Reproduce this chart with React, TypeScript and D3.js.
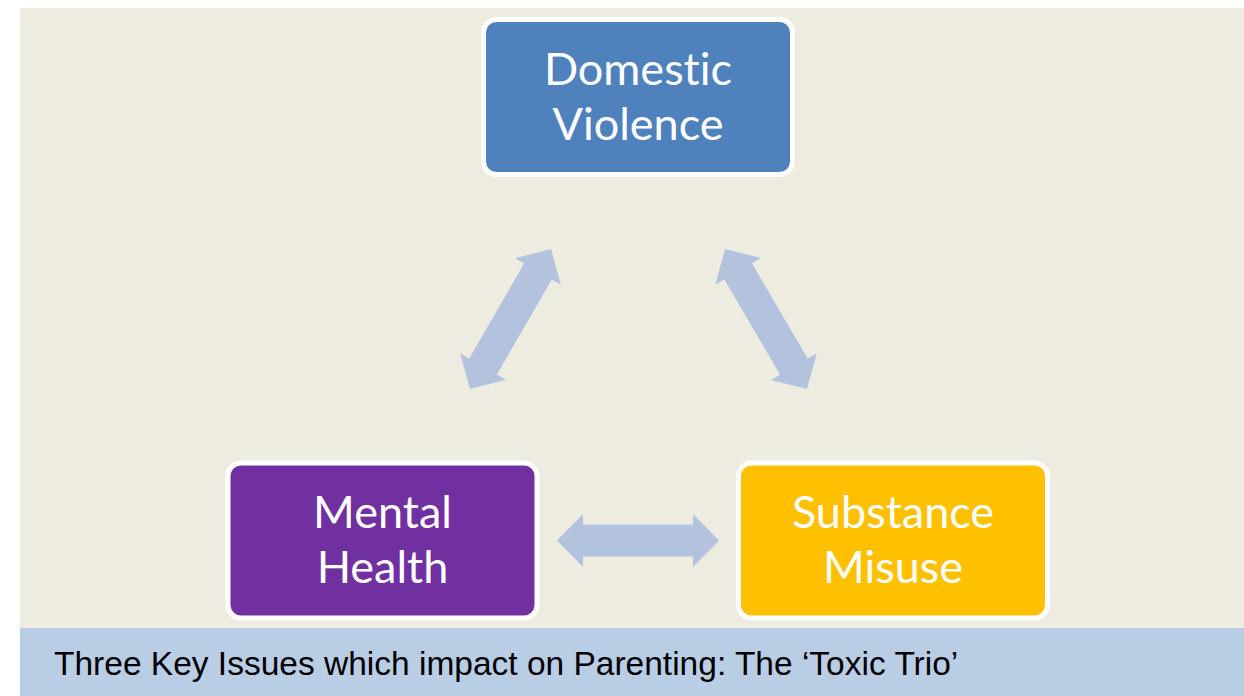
import React from "react";
import * as d3 from "d3";

// ---- data ----
const issueLabels: string[][] = [
  ["Domestic", "Violence"],
  ["Mental", "Health"],
  ["Substance", "Misuse"],
];
const issueColors: string[] = ["#4F81BD", "#7030A0", "#FFC000"];
// links between issues (indices)
const links: [number, number][] = [
  [0, 1],
  [0, 2],
  [1, 2],
];
const caption = "Three Key Issues which impact on Parenting: The \u2018Toxic Trio\u2019";

// ---- layout ----
const W = 1244;
const H = 696;
const boxW = 309;
const boxH = 155;
const boxCenters: [number, number][] = [
  [638, 97],
  [382.5, 540.5],
  [893, 540.5],
];
// arrow endpoints for each link
const arrowEnds: [[number, number], [number, number]][] = [
  [[551, 249], [470, 389]],
  [[725, 249], [807, 389]],
  [[557, 540.5], [719, 540.5]],
];

function arrowPoints(
  a: [number, number],
  b: [number, number],
  shaft: number,
  headW: number,
  headL: number
): [number, number][] {
  const dx = b[0] - a[0];
  const dy = b[1] - a[1];
  const len = Math.hypot(dx, dy);
  const ux = dx / len;
  const uy = dy / len;
  const nx = -uy;
  const ny = ux;
  const p = (t: number, s: number): [number, number] => [
    a[0] + ux * t + nx * s,
    a[1] + uy * t + ny * s,
  ];
  const hs = shaft / 2;
  const hw = headW / 2;
  return [
    p(0, 0),
    p(headL, hw),
    p(headL, hs),
    p(len - headL, hs),
    p(len - headL, hw),
    p(len, 0),
    p(len - headL, -hw),
    p(len - headL, -hs),
    p(headL, -hs),
    p(headL, -hw),
  ];
}

export default function App() {
  const line = d3.line<[number, number]>().curve(d3.curveLinearClosed);
  const lineH = 55;
  return (
    <svg
      width={W}
      height={H}
      style={{ position: "absolute", left: 0, top: 0, display: "block" }}
    >
      <rect x={0} y={0} width={W} height={H} fill="#ffffff" />
      <rect x={20} y={8} width={W - 20} height={620} fill="#EEECE1" />
      <rect x={20} y={628} width={W - 20} height={68} fill="#B9CDE5" />
      {links.map((l, i) => (
        <path
          key={"a" + i}
          d={line(arrowPoints(arrowEnds[i][0], arrowEnds[i][1], 32, 53, 26)) || ""}
          fill="#B3C3DD"
        />
      ))}
      {issueLabels.map((lines, i) => {
        const [cx, cy] = boxCenters[i];
        return (
          <g key={"b" + i}>
            <rect
              x={cx - boxW / 2}
              y={cy - boxH / 2}
              width={boxW}
              height={boxH}
              rx={13}
              ry={13}
              fill={issueColors[i]}
              stroke="#ffffff"
              strokeWidth={5}
            />
            {lines.map((t, j) => (
              <text
                key={j}
                x={cx}
                y={cy + (j - (lines.length - 1) / 2) * lineH + 15}
                textAnchor="middle"
                fill="#ffffff"
                fontFamily="Lato, sans-serif"
                fontSize={45}
                style={{ fontVariantLigatures: "none", fontFeatureSettings: "'liga' 0, 'dlig' 0" }}
              >
                {t}
              </text>
            ))}
          </g>
        );
      })}
      <text
        x={54}
        y={675}
        fill="#000000"
        fontFamily="'Liberation Sans', Arial, sans-serif"
        fontSize={33.5}
      >
        {caption}
      </text>
    </svg>
  );
}
